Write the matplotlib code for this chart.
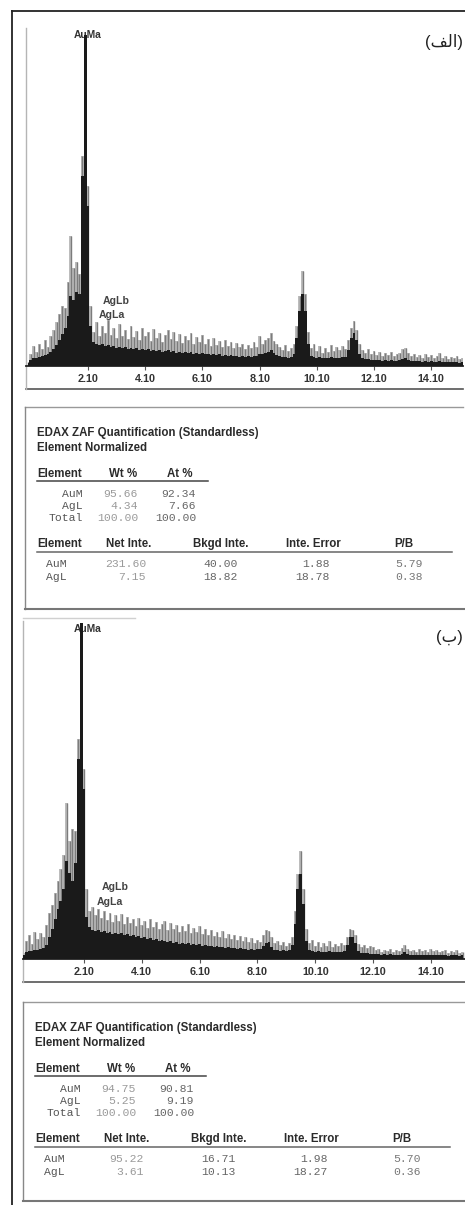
import numpy as np
import matplotlib
matplotlib.use("Agg")
import matplotlib.pyplot as plt
from matplotlib.lines import Line2D

plt.rcParams['font.family'] = ['Liberation Sans', 'DejaVu Sans']

# energy channels (keV), 0.1 keV per channel
energy = np.round(np.arange(0, 15.25, 0.1), 1)
tick_vals = [2.1, 4.1, 6.1, 8.1, 10.1, 12.1, 14.1]
tick_labels = ["2.10", "4.10", "6.10", "8.10", "10.10", "12.10", "14.10"]

# spectrum (الف): raw counts (spike tops) and dense body
sp1_top = [4, 12, 20, 14, 22, 17, 26, 19, 30, 36,
           44, 52, 60, 58, 84, 130, 98, 104, 92, 210,
           331, 180, 60, 34, 44, 30, 40, 33, 46, 31,
           38, 28, 42, 30, 36, 27, 40, 29, 35, 26,
           38, 30, 34, 25, 37, 28, 33, 24, 31, 36,
           27, 34, 25, 32, 23, 30, 26, 33, 22, 29,
           24, 31, 22, 27, 20, 28, 21, 25, 19, 26,
           20, 24, 18, 23, 19, 22, 17, 21, 18, 24,
           19, 30, 22, 26, 28, 33, 25, 22, 19, 16,
           21, 15, 18, 22, 40, 70, 95, 72, 34, 18,
           22, 15, 20, 13, 18, 14, 21, 15, 19, 16,
           20, 17, 26, 38, 45, 36, 22, 16, 13, 17,
           12, 15, 11, 14, 10, 13, 11, 14, 10, 12,
           13, 17, 18, 13, 10, 12, 9, 11, 8, 12,
           9, 11, 8, 10, 13, 8, 10, 7, 9, 8,
           10, 7, 8]
sp1_body = [3, 6, 8, 8, 9, 10, 11, 12, 14, 17,
            21, 26, 32, 38, 50, 70, 66, 74, 72, 190,
            331, 160, 40, 24, 22, 21, 22, 20, 21, 19,
            20, 18, 19, 18, 19, 17, 18, 17, 18, 16,
            17, 16, 17, 15, 16, 15, 16, 14, 15, 16,
            14, 15, 13, 14, 13, 14, 13, 14, 12, 13,
            12, 13, 12, 12, 11, 12, 11, 12, 10, 11,
            10, 11, 10, 10, 9, 10, 9, 10, 9, 10,
            10, 12, 12, 13, 14, 16, 13, 11, 10, 9,
            9, 8, 9, 12, 28, 55, 72, 55, 22, 10,
            9, 8, 9, 8, 8, 8, 9, 8, 8, 8,
            9, 9, 16, 28, 33, 26, 12, 8, 7, 7,
            6, 6, 6, 6, 5, 6, 5, 6, 5, 5,
            6, 7, 8, 6, 5, 5, 5, 5, 4, 5,
            4, 5, 4, 4, 5, 4, 4, 4, 4, 4,
            4, 3, 4]

# spectrum (ب)
sp2_top = [6, 18, 24, 15, 27, 20, 26, 22, 34, 46,
           54, 66, 78, 90, 104, 156, 118, 130, 128, 220,
           336, 190, 70, 48, 52, 44, 50, 41, 48, 39,
           46, 37, 44, 38, 45, 35, 42, 36, 40, 33,
           41, 34, 38, 31, 40, 32, 37, 30, 35, 38,
           29, 36, 30, 34, 27, 33, 28, 35, 26, 31,
           27, 33, 25, 30, 24, 29, 23, 27, 22, 28,
           21, 25, 20, 24, 19, 23, 18, 22, 17, 21,
           16, 19, 17, 24, 29, 28, 22, 16, 18, 14,
           17, 13, 16, 22, 48, 85, 108, 70, 30, 16,
           19, 13, 17, 12, 16, 13, 18, 12, 15, 13,
           16, 14, 22, 30, 29, 24, 15, 12, 14, 11,
           13, 12, 9, 10, 7, 9, 8, 10, 7, 9,
           8, 11, 14, 10, 8, 9, 7, 10, 8, 9,
           7, 10, 8, 9, 7, 8, 9, 6, 8, 7,
           9, 6, 7]
sp2_body = [4, 7, 8, 8, 9, 9, 10, 11, 14, 22,
            30, 40, 50, 58, 70, 98, 86, 78, 96, 200,
            336, 170, 42, 32, 29, 28, 29, 27, 28, 26,
            27, 25, 26, 25, 26, 24, 25, 23, 24, 22,
            23, 21, 22, 20, 21, 19, 20, 18, 19, 18,
            17, 18, 16, 17, 15, 16, 15, 16, 14, 15,
            14, 15, 13, 14, 13, 13, 12, 13, 12, 12,
            11, 12, 11, 11, 10, 11, 10, 10, 9, 10,
            9, 10, 10, 13, 16, 17, 12, 9, 9, 8,
            9, 8, 9, 14, 35, 70, 85, 55, 18, 9,
            8, 7, 8, 7, 7, 7, 8, 7, 7, 7,
            7, 8, 14, 22, 22, 16, 8, 6, 6, 6,
            5, 5, 5, 5, 4, 5, 4, 5, 4, 4,
            4, 5, 7, 5, 4, 4, 4, 4, 4, 4,
            4, 4, 4, 4, 4, 4, 4, 3, 4, 4,
            4, 3, 4]

# quantification tables
elements = ["AuM", "AgL"]
wt_1, at_1 = [95.66, 4.34], [92.34, 7.66]
net_1, bkgd_1, err_1, pb_1 = [231.60, 7.15], [40.00, 18.82], [1.88, 18.78], [5.79, 0.38]
wt_2, at_2 = [94.75, 5.25], [90.81, 9.19]
net_2, bkgd_2, err_2, pb_2 = [95.22, 3.61], [16.71, 10.13], [1.98, 18.27], [5.70, 0.36]

W, H = 465, 1205


def fx(x):
    return x / W


def fy(y):
    return 1 - y / H


fig = plt.figure(figsize=(W / 100, H / 100), dpi=100)


def fline(x0, y0, x1, y1, color='#444', lw=1.0):
    fig.add_artist(Line2D([fx(x0), fx(x1)], [fy(y0), fy(y1)],
                          transform=fig.transFigure, color=color, lw=lw))


def draw_spectrum(left, right, base, top_px, xlim, top, body, lab):
    ax = fig.add_axes([fx(left), fy(base), fx(right) - fx(left), (base - top_px) / H])
    span = base - top_px
    ax.set_xlim(*xlim)
    ax.set_ylim(0, span)
    # gray noisy tops, then the dark dense body
    ax.fill_between(energy, top, step='mid', color='#bcbcbc', lw=0, zorder=2)
    ax.vlines(energy, 0, top, color='#7c7c7c', lw=1.0, zorder=2)
    ax.fill_between(energy, body, step='mid', color='#1a1a1a', lw=0, zorder=3)
    for s in ['top', 'right', 'left']:
        ax.spines[s].set_visible(False)
    ax.spines['bottom'].set_color('#222')
    ax.spines['bottom'].set_linewidth(1.3)
    ax.set_yticks([])
    ax.set_xticks(tick_vals)
    ax.set_xticklabels(tick_labels, fontsize=7.8, fontweight='bold', color='#333')
    ax.tick_params(axis='x', length=3, width=0.8, color='#555', pad=2.5)
    strip = -23 / span
    ax.plot([0, 1], [strip, strip], transform=ax.transAxes, clip_on=False,
            color='#555', lw=1.2)
    ax.plot([0, 0], [strip, 1], transform=ax.transAxes, clip_on=False,
            color='#b5b5b5', lw=1.0)
    # peak labels
    ax.text(lab['auma'][0], lab['auma'][1], "AuMa", fontsize=7.4, fontweight='bold',
            color='#333', ha='center', va='center', zorder=1)
    ax.text(lab['aglb'][0], lab['aglb'][1], "AgLb", fontsize=7.6, fontweight='bold',
            color='#444', ha='left', va='center', zorder=4)
    ax.text(lab['agla'][0], lab['agla'][1], "AgLa", fontsize=7.6, fontweight='bold',
            color='#444', ha='left', va='center', zorder=4)
    return ax


def draw_table(dx, dy, wt, at, net, bkgd, err, pb):
    bold = dict(fontweight='bold', color='#2b2b2b', fontsize=8.3, va='center')
    mono = dict(family='Liberation Mono', fontsize=8.2, va='center')
    fig.text(fx(37 + dx), fy(433 + dy), "EDAX ZAF Quantification (Standardless)", ha='left', **bold)
    fig.text(fx(37 + dx), fy(448 + dy), "Element Normalized", ha='left', **bold)
    # first block
    fig.text(fx(37 + dx), fy(474 + dy), "Element", ha='left', **bold)
    fig.text(fx(123 + dx), fy(474 + dy), "Wt %", ha='center', **bold)
    fig.text(fx(180 + dx), fy(474 + dy), "At %", ha='center', **bold)
    fline(37 + dx, 481 + dy, 208 + dx, 481 + dy, color='#444', lw=1.1)
    rows = [(elements[0], wt[0], at[0]), (elements[1], wt[1], at[1]),
            ("Total", sum(wt), sum(at))]
    for i, (name, w, a) in enumerate(rows):
        y = fy(494 + dy + 12 * i)
        fig.text(fx(83 + dx), y, name, ha='right', color='#555', **mono)
        fig.text(fx(138 + dx), y, f"{w:.2f}", ha='right', color='#9a9a9a', **mono)
        fig.text(fx(196 + dx), y, f"{a:.2f}", ha='right', color='#666', **mono)
    # second block
    hy = fy(544 + dy)
    fig.text(fx(37 + dx), hy, "Element", ha='left', **bold)
    fig.text(fx(129 + dx), hy, "Net Inte.", ha='center', **bold)
    fig.text(fx(221 + dx), hy, "Bkgd Inte.", ha='center', **bold)
    fig.text(fx(313 + dx), hy, "Inte. Error", ha='center', **bold)
    fig.text(fx(404 + dx), hy, "P/B", ha='center', **bold)
    fline(37 + dx, 552 + dy, 452 + dx, 552 + dy, color='#666', lw=1.1)
    for i in range(2):
        y = fy(564 + dy + 13 * i)
        fig.text(fx(46 + dx), y, elements[i], ha='left', color='#555', **mono)
        fig.text(fx(146 + dx), y, f"{net[i]:.2f}", ha='right', color='#9a9a9a', **mono)
        fig.text(fx(238 + dx), y, f"{bkgd[i]:.2f}", ha='right', color='#666', **mono)
        fig.text(fx(330 + dx), y, f"{err[i]:.2f}", ha='right', color='#666', **mono)
        fig.text(fx(423 + dx), y, f"{pb[i]:.2f}", ha='right', color='#777', **mono)


# page frame
fline(12, 11, 465, 11, color='#333', lw=1.4)
fline(12, 11, 12, 1205, color='#222', lw=1.3)

# spectrum (الف)
draw_spectrum(26, 463, 366, 28, (-0.07, 15.21), sp1_top, sp1_body,
              {'auma': (2.1, 331), 'aglb': (2.62, 65), 'agla': (2.48, 51)})
fig.text(fx(463), fy(42), "(\ufed2\ufedf\ufe8d)", ha='right', va='center',
         fontsize=12, color='#222')

# table (الف)
fline(25, 407, 463, 407, color='#999', lw=1.0)
fline(25, 407, 25, 609, color='#888', lw=1.0)
fline(25, 609, 465, 609, color='#777', lw=1.5)
draw_table(0, 0, wt_1, at_1, net_1, bkgd_1, err_1, pb_1)

# spectrum (ب)
fline(23, 618, 135, 618, color='#d0d0d0', lw=1.0)
draw_spectrum(23, 465, 959, 621, (-0.01, 15.28), sp2_top, sp2_body,
              {'auma': (2.22, 330), 'aglb': (2.72, 72), 'agla': (2.55, 57)})
fig.text(fx(463), fy(637), "(\ufe8f)", ha='right', va='center',
         fontsize=12, color='#222')

# table (ب)
fline(23, 1002, 465, 1002, color='#999', lw=1.0)
fline(23, 1002, 23, 1199, color='#888', lw=1.0)
fline(23, 1201, 465, 1201, color='#777', lw=1.5)
draw_table(-2, 595, wt_2, at_2, net_2, bkgd_2, err_2, pb_2)

fig.savefig("out.png", dpi=100)
